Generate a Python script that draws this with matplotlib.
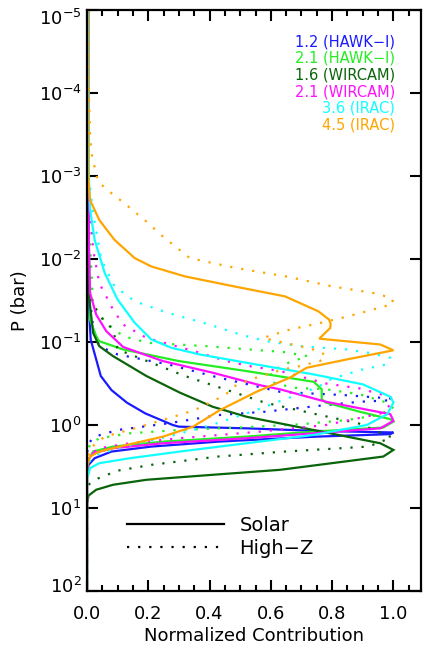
import numpy as np
import matplotlib
matplotlib.use("Agg")
import matplotlib.pyplot as plt
from matplotlib.lines import Line2D
from matplotlib.ticker import NullLocator, MultipleLocator
from matplotlib.transforms import ScaledTranslation

# ---- band names and colours ----
band_labels = ["1.2 (HAWK\u2212I)", "2.1 (HAWK\u2212I)", "1.6 (WIRCAM)",
               "2.1 (WIRCAM)", "3.6 (IRAC)", "4.5 (IRAC)"]
band_colors = ["#1a1aff", "#22ee22", "#0a640a", "#ff11ff", "#11ffff", "#ffa500"]

# ---- normalized contribution vs log10 P (bar) ----
# 1.2 HAWK-I
b12_sol_x = [0.003, 0.004, 0.008, 0.012, 0.03, 0.045, 0.08, 0.13, 0.19, 0.28, 0.30,
             0.52, 0.74, 1.00, 0.99, 0.75, 0.43, 0.21, 0.08, 0.025, 0.005, 0.0, 0.0]
b12_sol_logp = [-5.0, -2.0, -1.3, -1.03, -0.79, -0.59, -0.42, -0.27, -0.14, 0.0, 0.02,
                0.04, 0.07, 0.09, 0.11, 0.14, 0.20, 0.26, 0.32, 0.40, 0.48, 0.60, 2.0]
b12_hz_x = [0.004, 0.006, 0.015, 0.025, 0.04, 0.10, 0.265, 0.42, 0.63, 0.73, 0.84, 0.99,
            1.00, 0.89, 0.78, 0.58, 0.43, 0.265, 0.10, 0.025, 0.005, 0.0, 0.0]
b12_hz_logp = [-5.0, -2.0, -1.3, -1.11, -0.95, -0.85, -0.73, -0.58, -0.40, -0.38, -0.36,
               -0.32, -0.30, -0.28, -0.24, -0.16, -0.12, -0.02, 0.06, 0.14, 0.22, 0.35, 2.0]

# 2.1 HAWK-I
g21_sol_x = [0.004, 0.005, 0.01, 0.03, 0.04, 0.118, 0.30, 0.52, 0.74, 0.766, 0.766, 0.78,
             0.89, 0.99, 1.0, 0.967, 0.74, 0.52, 0.25, 0.085, 0.02, 0.005, 0.0, 0.0]
g21_sol_logp = [-5.0, -2.5, -1.27, -1.07, -1.01, -0.91, -0.77, -0.65, -0.52, -0.43, -0.31,
                -0.27, -0.16, -0.07, -0.04, 0.03, 0.08, 0.14, 0.20, 0.26, 0.32, 0.42, 0.6, 2.0]
g21_hz_x = [0.004, 0.006, 0.02, 0.063, 0.118, 0.2, 0.39, 0.53, 0.64, 0.72, 0.65, 0.60,
            0.60, 0.67, 0.78, 0.89, 0.978, 1.0, 0.95, 0.85, 0.7, 0.5, 0.3, 0.14, 0.04,
            0.01, 0.0, 0.0]
g21_hz_logp = [-5.0, -2.5, -1.43, -1.23, -1.07, -0.99, -0.95, -0.91, -0.88, -0.83, -0.74,
               -0.64, -0.52, -0.45, -0.43, -0.37, -0.27, -0.20, -0.12, -0.06, -0.01, 0.03,
               0.06, 0.10, 0.16, 0.23, 0.35, 2.0]

# 1.6 WIRCAM
dg16_sol_x = [0.004, 0.005, 0.02, 0.04, 0.085, 0.194, 0.303, 0.41, 0.52, 0.684, 0.848,
              0.957, 1.0, 0.967, 0.82, 0.63, 0.41, 0.194, 0.085, 0.03, 0.005, 0.0, 0.0]
dg16_sol_logp = [-5.0, -1.6, -1.11, -0.95, -0.83, -0.59, -0.39, -0.22, -0.10, 0.02, 0.14,
                 0.22, 0.30, 0.38, 0.45, 0.54, 0.60, 0.66, 0.72, 0.78, 0.85, 0.95, 2.0]
dg16_hz_x = [0.004, 0.006, 0.01, 0.052, 0.085, 0.10, 0.21, 0.32, 0.45, 0.58, 0.76, 0.886,
             0.995, 0.918, 0.646, 0.428, 0.21, 0.10, 0.025, 0.005, 0.0, 0.0]
dg16_hz_logp = [-5.0, -2.2, -1.51, -1.27, -1.15, -0.91, -0.75, -0.59, -0.43, -0.27, -0.12,
                -0.02, 0.15, 0.26, 0.32, 0.38, 0.48, 0.55, 0.66, 0.72, 0.85, 2.0]

# 2.1 WIRCAM
m21_sol_x = [0.004, 0.006, 0.01, 0.03, 0.063, 0.118, 0.248, 0.41, 0.564, 0.63, 0.78,
             0.99, 1.0, 0.957, 0.739, 0.52, 0.248, 0.085, 0.02, 0.005, 0.0, 0.0]
m21_sol_logp = [-5.0, -2.2, -1.59, -1.33, -1.13, -0.94, -0.77, -0.63, -0.48, -0.43, -0.28,
                -0.13, -0.05, 0.04, 0.10, 0.16, 0.22, 0.28, 0.34, 0.41, 0.55, 2.0]
m21_hz_x = [0.004, 0.006, 0.02, 0.04, 0.085, 0.118, 0.194, 0.368, 0.455, 0.53, 0.63,
            0.78, 0.89, 0.99, 1.0, 0.96, 0.78, 0.564, 0.30, 0.14, 0.04, 0.01, 0.0, 0.0]
m21_hz_logp = [-5.0, -2.8, -2.11, -1.71, -1.39, -1.21, -1.05, -0.87, -0.77, -0.71, -0.65,
               -0.50, -0.44, -0.34, -0.28, -0.14, 0.0, 0.08, 0.16, 0.22, 0.28, 0.35, 0.5, 2.0]

# 3.6 IRAC
c36_sol_x = [0.004, 0.006, 0.01, 0.025, 0.058, 0.10, 0.156, 0.21, 0.276, 0.368, 0.52,
             0.739, 0.90, 0.99, 1.0, 0.98, 0.913, 0.739, 0.52, 0.303, 0.14, 0.04, 0.01,
             0.0, 0.0]
c36_sol_logp = [-5.0, -3.0, -2.6, -2.23, -1.83, -1.51, -1.23, -1.03, -0.93, -0.85, -0.75,
                -0.61, -0.49, -0.34, -0.27, -0.13, 0.0, 0.12, 0.22, 0.32, 0.40, 0.46, 0.52,
                0.65, 2.0]
c36_hz_x = [0.004, 0.006, 0.02, 0.047, 0.09, 0.156, 0.265, 0.40, 0.50, 0.586, 0.695,
            0.848, 0.92, 0.99, 0.978, 0.90, 0.80, 0.755, 0.646, 0.537, 0.406, 0.265, 0.12,
            0.03, 0.005, 0.0, 0.0]
c36_hz_logp = [-5.0, -3.0, -2.55, -1.99, -1.67, -1.49, -1.35, -1.21, -1.09, -1.01, -0.95,
               -0.91, -0.87, -0.81, -0.73, -0.67, -0.56, -0.46, -0.31, -0.16, 0.0, 0.14,
               0.26, 0.36, 0.45, 0.6, 2.0]

# 4.5 IRAC
o45_sol_x = [0.002, 0.004, 0.01, 0.04, 0.09, 0.156, 0.21, 0.32, 0.48, 0.646, 0.755, 0.79,
             0.795, 0.794, 0.758, 0.957, 1.0, 0.848, 0.717, 0.662, 0.553, 0.434, 0.346,
             0.248, 0.107, 0.04, 0.01, 0.0, 0.0]
o45_sol_logp = [-5.0, -3.0, -2.71, -2.47, -2.23, -2.01, -1.91, -1.79, -1.67, -1.55, -1.37,
                -1.27, -1.22, -1.17, -1.04, -0.97, -0.90, -0.79, -0.69, -0.57, -0.40, -0.18,
                0.02, 0.14, 0.26, 0.32, 0.38, 0.5, 2.0]
o45_hz_x = [0.004, 0.006, 0.01, 0.014, 0.036, 0.074, 0.129, 0.194, 0.248, 0.336, 0.488,
            0.65, 0.80, 0.935, 0.995, 1.0, 0.913, 0.842, 0.75, 0.662, 0.575, 0.62, 0.695,
            0.76, 0.78, 0.76, 0.695, 0.64, 0.56, 0.49, 0.45, 0.352, 0.265, 0.156, 0.058,
            0.01, 0.0, 0.0]
o45_hz_logp = [-5.0, -4.0, -3.52, -3.28, -2.93, -2.81, -2.65, -2.45, -2.27, -2.01, -1.89,
               -1.79, -1.67, -1.59, -1.53, -1.46, -1.37, -1.30, -1.22, -1.15, -1.05, -1.01,
               -0.95, -0.89, -0.83, -0.77, -0.71, -0.67, -0.58, -0.49, -0.36, -0.18, -0.08,
               0.04, 0.14, 0.28, 0.45, 2.0]

solar_curves = [(b12_sol_x, b12_sol_logp), (g21_sol_x, g21_sol_logp),
                (dg16_sol_x, dg16_sol_logp), (m21_sol_x, m21_sol_logp),
                (c36_sol_x, c36_sol_logp), (o45_sol_x, o45_sol_logp)]
highz_curves = [(b12_hz_x, b12_hz_logp), (g21_hz_x, g21_hz_logp),
                (dg16_hz_x, dg16_hz_logp), (m21_hz_x, m21_hz_logp),
                (c36_hz_x, c36_hz_logp), (o45_hz_x, o45_hz_logp)]

y_decades = np.arange(-5, 3)

DOT = (0, (1, 4))

fig = plt.figure(figsize=(4.23, 6.48), dpi=100)
ax = fig.add_axes([87 / 423, 1 - 591 / 648, 334 / 423, 581 / 648])

for col, (sx, sl), (hx, hl) in zip(band_colors, solar_curves, highz_curves):
    ax.plot(sx, 10.0 ** np.array(sl), color=col, lw=1.6, solid_joinstyle="miter")
    ax.plot(hx, 10.0 ** np.array(hl), color=col, lw=1.6, linestyle=DOT)

ax.set_yscale("log")
ax.set_ylim(1e2, 1e-5)
ax.set_xlim(0, 1.09)

ax.set_yticks(10.0 ** y_decades)
ax.yaxis.set_minor_locator(NullLocator())
ax.xaxis.set_major_locator(MultipleLocator(0.2))
ax.xaxis.set_minor_locator(MultipleLocator(0.05))
ax.tick_params(which="both", direction="in", top=True, right=True, width=1.5)
ax.tick_params(which="major", length=8)
ax.tick_params(which="minor", length=4)
ax.tick_params(axis="x", labelsize=13, pad=10)
ax.tick_params(axis="y", labelsize=13, pad=4)
for sp in ax.spines.values():
    sp.set_linewidth(1.6)

# end labels sit inside the axis range, as in the original
ylabels = ax.get_yticklabels()
ylabels[0].set_transform(ylabels[0].get_transform()
                         + ScaledTranslation(0, -5 / 72, fig.dpi_scale_trans))
ylabels[-1].set_transform(ylabels[-1].get_transform()
                          + ScaledTranslation(0, 4 / 72, fig.dpi_scale_trans))

ax.set_xlabel("Normalized Contribution", fontsize=13, labelpad=3)
ax.set_ylabel("P (bar)", fontsize=13, labelpad=7)

# colored band labels, top right
for i, (lab, col) in enumerate(zip(band_labels, band_colors)):
    ax.text(0.922, 0.9455 - i * 0.0287, lab, color=col, fontsize=10.5,
            ha="right", va="center", transform=ax.transAxes)

# line-style legend
handles = [Line2D([], [], color="black", lw=1.6),
           Line2D([], [], color="black", lw=1.6, linestyle=DOT)]
ax.legend(handles, ["Solar", "High\u2212Z"], loc="center left",
          bbox_to_anchor=(0.09, 0.093), frameon=False, fontsize=14,
          handlelength=5.0, handletextpad=0.8, labelspacing=0.2, borderpad=0)

fig.savefig("out.png", dpi=100)
